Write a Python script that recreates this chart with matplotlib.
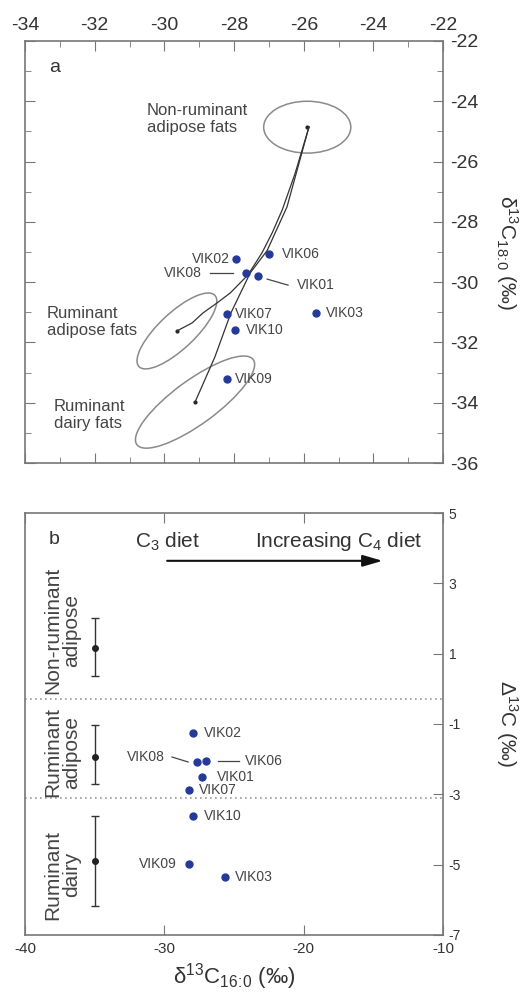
import numpy as np
import matplotlib
matplotlib.use("Agg")
import matplotlib.pyplot as plt
from matplotlib.patches import Circle
from matplotlib.transforms import Affine2D
from matplotlib.ticker import MultipleLocator

plt.rcParams['font.family'] = ['Liberation Sans', 'DejaVu Sans']
plt.rcParams['mathtext.fontset'] = 'custom'
plt.rcParams['mathtext.rm'] = 'Liberation Sans'
plt.rcParams['mathtext.it'] = 'Liberation Sans'
plt.rcParams['axes.unicode_minus'] = False

# samples: d13C16:0, d13C18:0, D13C
samples = ['VIK01', 'VIK02', 'VIK03', 'VIK06', 'VIK07', 'VIK08', 'VIK09', 'VIK10']
d16 = [-27.3, -27.94, -25.65, -27.0, -28.2, -27.65, -28.2, -27.98]
d18 = [-29.81, -29.24, -31.04, -29.08, -31.07, -29.71, -33.23, -31.6]
big_delta = [-2.51, -1.26, -5.35, -2.05, -2.88, -2.08, -4.98, -3.62]

# reference ellipses (centre, half-axis vectors) in panel a
ell_names = ['Non-ruminant', 'Ruminant adipose', 'Ruminant dairy']
ell_centre = [(-25.9, -24.86), (-29.64, -31.62), (-29.12, -33.98)]
ell_u = [(1.25, 0.0), (1.09, 1.18), (1.67, 1.41)]
ell_v = [(0.0, 0.86), (0.35, -0.44), (0.37, -0.59)]

# mixing curves
mix_adipose_x = [-29.64, -29.2, -28.89, -28.5, -28.11, -27.60, -27.20, -26.9, -26.62, -26.25, -25.85]
mix_adipose_y = [-31.62, -31.35, -31.02, -30.7, -30.36, -29.76, -29.03, -28.35, -27.61, -26.4, -24.85]
mix_dairy_x = [-29.12, -28.55, -28.09, -27.54, -27.05, -26.48, -25.85]
mix_dairy_y = [-33.98, -32.48, -31.02, -29.70, -28.95, -27.50, -24.85]

# panel b reference ranges
ref_x = -35
ref_mean = [1.16, -1.94, -4.9]
ref_low = [0.37, -2.71, -6.17]
ref_high = [2.01, -1.03, -3.62]
ref_labels = ['Non-ruminant\nadipose', 'Ruminant\nadipose', 'Ruminant\ndairy']
ref_label_y = [1.67, -1.8, -5.29]
boundaries = [-0.3, -3.1]

blue = '#25399a'
grey = '#444444'
spine_c = '#777777'

fig = plt.figure(figsize=(5.26, 9.94), dpi=100)
ax1 = fig.add_axes([0.0475, 0.5342, 0.795, 0.4246])
ax2 = fig.add_axes([0.0475, 0.0594, 0.795, 0.4245])

for ax in (ax1, ax2):
    for s in ax.spines.values():
        s.set_color(spine_c)
        s.set_linewidth(1.2)

# ---------- panel a ----------
ax1.set_xlim(-34, -22)
ax1.set_ylim(-36, -22)
ax1.xaxis.set_major_locator(MultipleLocator(2))
ax1.xaxis.set_minor_locator(MultipleLocator(1))
ax1.yaxis.set_major_locator(MultipleLocator(2))
ax1.yaxis.set_minor_locator(MultipleLocator(1))
ax1.tick_params(axis='both', which='both', direction='in', top=True, bottom=True,
                left=True, right=True, labeltop=True, labelbottom=False,
                labelleft=False, labelright=True, colors=spine_c, labelcolor='#333333')
ax1.tick_params(which='major', length=7, labelsize=14, pad=5)
ax1.tick_params(which='minor', length=4)

for c, u, v in zip(ell_centre, ell_u, ell_v):
    tr = Affine2D.from_values(u[0], u[1], v[0], v[1], c[0], c[1]) + ax1.transData
    ax1.add_patch(Circle((0, 0), 1, transform=tr, fill=False, ec='#8a8a8a', lw=1.1))
    ax1.plot(c[0], c[1], 'o', color='#222222', ms=2)

ax1.plot(mix_adipose_x, mix_adipose_y, color='#333333', lw=0.9)
ax1.plot(mix_dairy_x, mix_dairy_y, color='#333333', lw=0.9)
ax1.plot(d16, d18, 'o', color=blue, ms=5, zorder=5)

fs = 10
lab_a = {
    'VIK02': (-28.11, -29.24, 'right'), 'VIK06': (-26.62, -29.08, 'left'),
    'VIK08': (-28.92, -29.71, 'right'), 'VIK01': (-26.19, -30.10, 'left'),
    'VIK07': (-27.97, -31.07, 'left'), 'VIK10': (-27.65, -31.6, 'left'),
    'VIK03': (-25.36, -31.04, 'left'), 'VIK09': (-27.97, -33.23, 'left'),
}
for k, (x, y, ha) in lab_a.items():
    ax1.text(x, y, k, ha=ha, va='center', fontsize=fs, color=grey)
ax1.plot([-28.69, -28.03], [-29.71, -29.71], color=grey, lw=0.9)
ax1.plot([-27.05, -26.45], [-29.90, -30.10], color=grey, lw=0.9)

ax1.text(-30.5, -24.59, 'Non-ruminant\nadipose fats', fontsize=12, color=grey, va='center')
ax1.text(-33.37, -31.32, 'Ruminant\nadipose fats', fontsize=12, color=grey, va='center')
ax1.text(-33.17, -34.41, 'Ruminant\ndairy fats', fontsize=12, color=grey, va='center')
ax1.text(0.057, 0.938, 'a', transform=ax1.transAxes, fontsize=14, color='#333333',
         va='center')
ax1.yaxis.set_label_position('right')
ax1.set_ylabel(r'δ$^{13}$C$_{18\!:\!0}$ (‰)', rotation=-90, fontsize=15,
               color='#333333', labelpad=30)

# ---------- panel b ----------
ax2.set_xlim(-40, -10)
ax2.set_ylim(-7, 5)
ax2.set_xticks([-40, -30, -20, -10])
ax2.set_yticks([-7, -5, -3, -1, 1, 3, 5])
ax2.tick_params(axis='x', direction='in', top=True, bottom=True, length=7,
                labelsize=11, pad=5, colors=spine_c, labelcolor='#333333')
ax2.tick_params(axis='y', direction='in', left=False, right=True, labelleft=False,
                labelright=True, length=7, labelsize=10, pad=4, colors=spine_c,
                labelcolor='#333333')

for b in boundaries:
    ax2.axhline(b, color='#999999', ls=(0, (1, 2)), lw=1.2)

ax2.errorbar([ref_x] * 3, ref_mean,
             yerr=[np.array(ref_mean) - np.array(ref_low),
                   np.array(ref_high) - np.array(ref_mean)],
             fmt='o', color='#222222', ms=4, capsize=3, elinewidth=1, ecolor='#333333')
for lab, y in zip(ref_labels, ref_label_y):
    ax2.text(-37.3, y, lab, rotation=90, ha='center', va='center', fontsize=15,
             color=grey, multialignment='center', linespacing=1.0)

ax2.plot(d16, big_delta, 'o', color=blue, ms=5, zorder=5)
lab_b = {
    'VIK02': (-27.15, -1.26, 'left'), 'VIK08': (-29.95, -1.94, 'right'),
    'VIK06': (-24.21, -2.05, 'left'), 'VIK01': (-26.22, -2.51, 'left'),
    'VIK07': (-27.51, -2.88, 'left'), 'VIK10': (-27.15, -3.62, 'left'),
    'VIK09': (-29.09, -4.98, 'right'), 'VIK03': (-24.92, -5.35, 'left'),
}
for k, (x, y, ha) in lab_b.items():
    ax2.text(x, y, k, ha=ha, va='center', fontsize=fs, color=grey)
ax2.plot([-29.45, -28.3], [-1.94, -2.08], color=grey, lw=0.9)
ax2.plot([-26.15, -24.64], [-2.05, -2.05], color=grey, lw=0.9)

ax2.annotate('', xy=(-14.15, 3.64), xytext=(-30, 3.64),
             arrowprops=dict(arrowstyle='-|>,head_length=1.2,head_width=0.35',
                             color='#111111', lw=1.5))
ax2.text(-32.1, 4.18, 'C$_3$ diet', fontsize=15, color='#333333', va='center')
ax2.text(-23.49, 4.18, 'Increasing C$_4$ diet', fontsize=15, color='#333333',
         va='center')
ax2.text(0.057, 0.938, 'b', transform=ax2.transAxes, fontsize=14, color='#333333',
         va='center')

ax2.yaxis.set_label_position('right')
ax2.set_ylabel('Δ$^{13}$C (‰)', rotation=-90, fontsize=15, color='#333333',
               labelpad=42)
ax2.set_xlabel(r'δ$^{13}$C$_{16\!:\!0}$ (‰)', fontsize=16, color='#333333',
               labelpad=4)

fig.savefig('out.png', dpi=100)
